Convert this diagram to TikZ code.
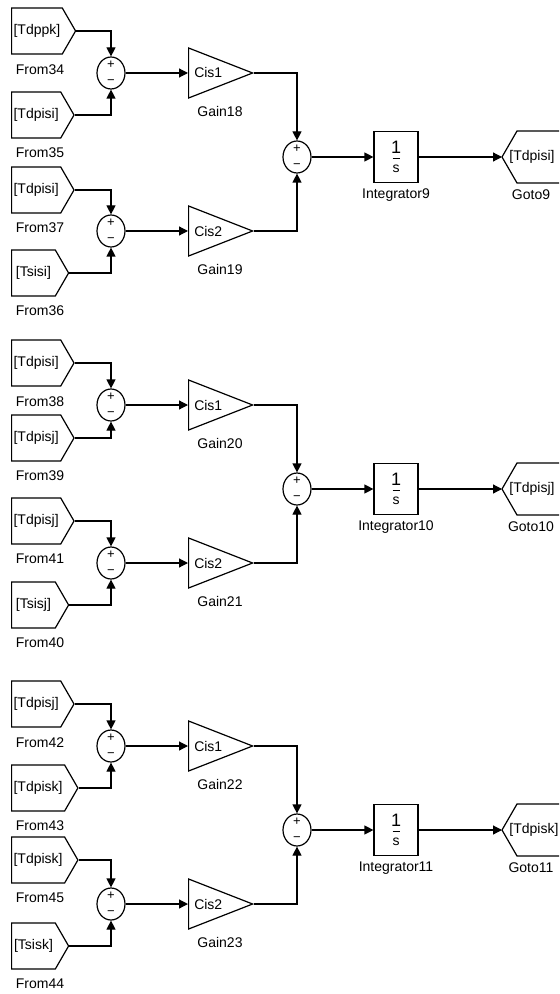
\documentclass[tikz,border=0pt]{standalone}
\usepackage{fontspec}
\setmainfont{Liberation Sans}
\usetikzlibrary{positioning,arrows.meta,shapes.symbols,shapes.geometric}
\tikzset{
  blkline/.style={line width=0.6pt},
  blkfont/.style={font=\fontsize{7}{8}\selectfont},
  fromblk/.style={draw, blkline, blkfont, shape=signal, signal to=east, signal from=nowhere,
    signal pointer angle=120, minimum width=28.5pt, minimum height=23pt, inner sep=1pt, anchor=west},
  gotoblk/.style={blkfont, minimum height=25.5pt, inner xsep=3.5pt, anchor=west},
  sumblk/.style={draw, blkline, ellipse, minimum width=14pt, minimum height=16pt, inner sep=-0.5pt,
    align=center, font=\fontsize{6.5}{8}\selectfont},
  gainblk/.style={draw, blkline, blkfont, isosceles triangle, isosceles triangle stretches,
    minimum width=25pt, minimum height=32pt, inner sep=1pt, anchor=lower side},
  intblk/.style={draw, blkline, blkfont, minimum width=22pt, minimum height=25.5pt, inner sep=0pt,
    align=center},
  blklabel/.style={blkfont},
  sig/.style={blkline, -{Triangle[length=4.5pt,width=4.5pt]}},
}

\begin{document}
\begin{tikzpicture}[x=0.5pt, y=-0.5pt]
  \clip (0,0) rectangle (559,994);
  \foreach \g/\oy/\fa/\fb/\fc/\fd/\ta/\tb/\tc/\td/\ga/\gb/\ig/\yb/\yc in {
      1/0/34/35/37/36/Tdppk/Tdpisi/Tdpisi/Tsisi/18/19/9/115/190,
      2/332/38/39/41/40/Tdpisi/Tdpisj/Tdpisj/Tsisj/20/21/10/106/189,
      3/673/42/43/45/44/Tdpisj/Tdpisk/Tdpisk/Tsisk/22/23/11/115/187} {
    \begin{scope}[shift={(0,\oy)}]
      % from blocks
      \node[fromblk] (fa\g) at (11,31) {[\ta]};
      \node[fromblk] (fb\g) at (11,\yb) {[\tb]};
      \node[fromblk] (fc\g) at (11,\yc) {[\tc]};
      \node[fromblk] (fd\g) at (11,273) {[\td]};
      \node[blklabel] (la\g) at (40,70) {From\fa};
      \node[blklabel] (lb\g) at (40,\yb+38) {From\fb};
      \node[blklabel] (lc\g) at (40,\yc+38) {From\fc};
      \node[blklabel] (ld\g) at (40,311) {From\fd};
      % sums and gains
      \node[sumblk] (sa\g) at (111,73) {+\\−};
      \node[sumblk] (sb\g) at (111,231) {+\\−};
      \node[gainblk] (ga\g) at (188,73) {Cis1};
      \node[gainblk] (gb\g) at (188,231) {Cis2};
      \node[blklabel] (lga\g) at (220,111) {Gain\ga};
      \node[blklabel] (lgb\g) at (220,269) {Gain\gb};
      \node[sumblk] (sc\g) at (297,157) {+\\−};
      % integrator and goto
      \node[intblk] (in\g) at (396,157)
        {{\fontsize{9}{9}\selectfont 1}\\[-5.5pt]\rule{3.5pt}{0.5pt}\\[-1pt]s};
      \node[blklabel] (lin\g) at (396,195) {Integrator\ig};
      \node[gotoblk] (gt\g) at (502,157) {[\tc]};
      \draw[blkline] (gt\g.west) -- ++(15,-26) -- ++(60,0) (gt\g.west) -- ++(15,26) -- ++(60,0);
      \node[blklabel] (lgt\g) at (531,195) {Goto\ig};
      \draw[sig] (fa\g.east) -| (sa\g.north);
      \draw[sig] (fb\g.east) -| (sa\g.south);
      \draw[sig] (fc\g.east) -| (sb\g.north);
      \draw[sig] (fd\g.east) -| (sb\g.south);
      \draw[sig] (sa\g.east) -- (ga\g.lower side);
      \draw[sig] (sb\g.east) -- (gb\g.lower side);
      \draw[sig] (ga\g.apex) -| (sc\g.north);
      \draw[sig] (gb\g.apex) -| (sc\g.south);
      \draw[sig] (sc\g.east) -- (in\g.west);
      \draw[sig] (in\g.east) -- (gt\g.west);
    \end{scope}
  }
\end{tikzpicture}
\end{document}
